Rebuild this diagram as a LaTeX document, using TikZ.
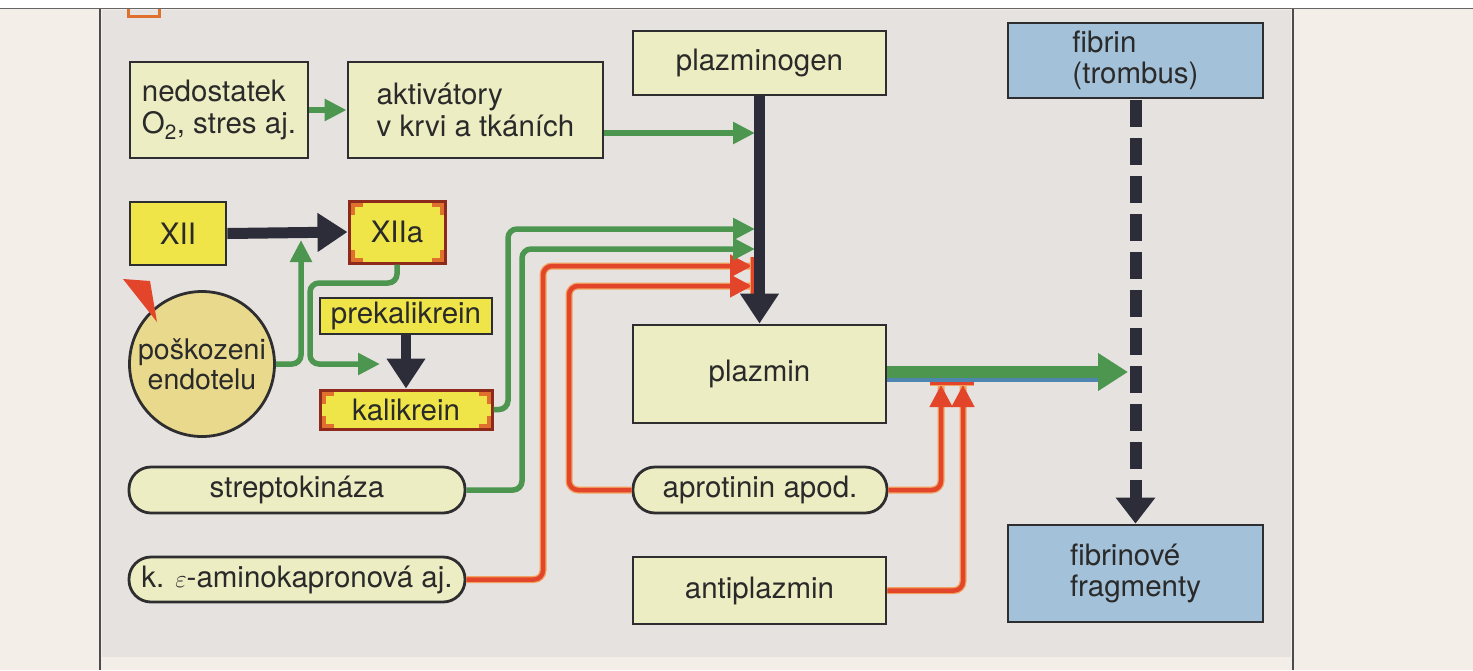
\documentclass[tikz,border=0pt]{standalone}
\usepackage{fontspec}
\setmainfont{TeX Gyre Heros}
\usetikzlibrary{arrows.meta}
\definecolor{pageC}{HTML}{F3EEE7}
\definecolor{panelC}{HTML}{E6E2E0}
\definecolor{paleY}{HTML}{EDEDC3}
\definecolor{brightY}{HTML}{EFE548}
\definecolor{circY}{HTML}{E8D98C}
\definecolor{blueF}{HTML}{A3C1D8}
\definecolor{lineC}{HTML}{2E2E30}
\definecolor{darkA}{HTML}{2C2D38}
\definecolor{greenC}{HTML}{4C9650}
\definecolor{redC}{HTML}{E2452A}
\definecolor{orangeC}{HTML}{F2A260}
\definecolor{dredC}{HTML}{8E2A1C}
\definecolor{cornerC}{HTML}{E0702E}
\definecolor{blueL}{HTML}{4F86B0}
\definecolor{textC}{HTML}{2A2A2A}
\newcommand\boxcorners[1]{%
  \draw[cornerC, line width=4pt]
    ([shift={(5,15)}]#1.north west) -- ([shift={(5,5)}]#1.north west) -- ([shift={(15,5)}]#1.north west)
    ([shift={(-5,15)}]#1.north east) -- ([shift={(-5,5)}]#1.north east) -- ([shift={(-15,5)}]#1.north east)
    ([shift={(5,-15)}]#1.south west) -- ([shift={(5,-5)}]#1.south west) -- ([shift={(15,-5)}]#1.south west)
    ([shift={(-5,-15)}]#1.south east) -- ([shift={(-5,-5)}]#1.south east) -- ([shift={(-15,-5)}]#1.south east);}
\tikzset{
  basebox/.style={draw=lineC, line width=2.8pt, inner sep=0pt, text=textC},
  pbox/.style={basebox, fill=paleY},
  ybox/.style={basebox, fill=brightY},
  rbox/.style={basebox, draw=dredC, line width=3pt, fill=brightY},
  bbox/.style={basebox, fill=blueF},
  pill/.style={basebox, fill=paleY, rounded corners=22pt},
  gline/.style={draw=greenC, line width=5.5pt, rounded corners=9pt},
  garrow/.style={gline, -{Triangle[length=22pt,width=21pt]}},
  rline/.style={draw=redC, line width=4.5pt, rounded corners=9pt,
     preaction={draw=orangeC, line width=7pt, arrows=-}},
  rarrow/.style={rline, -{Triangle[length=22pt,width=22pt]}},
  darrow/.style={draw=darkA, line width=11pt, -{Triangle[length=30pt,width=37pt]}},
}
\begin{document}
\begin{tikzpicture}[x=1pt,y=-1pt, font=\fontsize{29.5}{31.5}\selectfont]
\useasboundingbox (0,0) rectangle (1473,670);
% backgrounds
\fill[pageC] (0,0) rectangle (1473,670);
\fill[white] (0,0) rectangle (1473,8);
\fill[panelC] (102,10) rectangle (1291,657);
\draw[gray!80!black, line width=1.5pt] (0,8.5) -- (1473,8.5);
\draw[gray!60!black, line width=2pt] (100,8.5) -- (100,670);
\draw[gray!60!black, line width=2pt] (1293,8.5) -- (1293,670);
\draw[cornerC, line width=3pt] (128,9) -- (128,16) -- (159,16) -- (159,9);

% nodes
\node[pbox, minimum width=178pt, minimum height=96pt, align=left] (ned) at (219,110) {nedostatek\\O\textsubscript{2}, stres aj.};
\node[pbox, minimum width=255pt, minimum height=96pt, align=left] (akt) at (475.5,110) {aktivátory\\v krvi a tkáních};
\node[pbox, minimum width=253pt, minimum height=64pt] (plg) at (759.5,63) {plazminogen};
\node[bbox, minimum width=255pt, minimum height=75pt, align=left] (fib) at (1135.5,60.5) {fibrin\\(trombus)};
\node[ybox, minimum width=96pt, minimum height=63pt] (xii) at (178,233.5) {XII};
\node[rbox, minimum width=96pt, minimum height=62pt] (xiia) at (397,232) {XIIa};
\node[basebox, circle, fill=circY, minimum size=145pt, align=center, font=\fontsize{28.5}{30}\selectfont] (circ) at (202,364) {poškozeni\\endotelu};
\node[ybox, minimum width=172pt, minimum height=36pt] (prek) at (406,316) {prekalikrein};
\node[rbox, minimum width=172pt, minimum height=39pt] (kal) at (406,409.5) {kalikrein};
\node[pill, minimum width=336pt, minimum height=46pt] (strep) at (297,490) {streptokináza};
\node[pill, minimum width=336pt, minimum height=45pt] (amino) at (297,579.5) {k. $\varepsilon$-aminokapronová aj.};
\node[pbox, minimum width=253pt, minimum height=98pt] (plm) at (759.5,374) {plazmin};
\node[pill, minimum width=254pt, minimum height=46pt] (apr) at (760,490) {aprotinin apod.};
\node[pbox, minimum width=253pt, minimum height=67pt] (anti) at (759.5,590.5) {antiplazmin};
\node[bbox, minimum width=255pt, minimum height=97pt, align=left] (frag) at (1135.5,573.5) {fibrinové\\fragmenty};
\boxcorners{xiia}
\boxcorners{kal}
\fill[redC] (123,279) -- (150,281) -- (157,322) -- cycle;

% target coordinates on lines
\coordinate (t1) at (755,133);
\coordinate (g1) at (755,229);
\coordinate (g2) at (755,249);
\coordinate (r1) at (752,266);
\coordinate (r2) at (752,286);
\coordinate (c1) at (301,240);
\coordinate (c2) at (380,364);
\coordinate (r3) at (941,385);
\coordinate (r4) at (963,385);
\coordinate (t2) at (1128,372);

% red connectors (under)
\draw[rarrow] (amino.east) -| (543,266) -- (r1);
\draw[rarrow] (apr.west) -| (569,286) -- (r2);
\draw[rarrow] (apr.east) -| (r3);
\draw[rarrow] (anti.east) -| (r4);
\draw[redC, line width=3.5pt, preaction={draw=orangeC, line width=5.5pt}] (753,257) -- (753,294);
\draw[redC, line width=4pt, preaction={draw=orangeC, line width=6pt}] (930,383) -- (974,383);

% green connectors
\draw[garrow] (ned.east) -- (akt.west);
\draw[garrow] (akt.east |- t1) -- (t1);
\draw[garrow] (circ.east) -| (c1);
\draw[garrow] (xiia.south) -- (397,283) -- (310,283) -- (310,364) -- (c2);
\draw[garrow] (kal.east) -| (508,229) -- (g1);
\draw[garrow] (strep.east) -| (522,249) -- (g2);
\draw[blueL, line width=4pt] (plm.east |- 0,380) -- (1100,380);
\draw[draw=greenC, line width=12pt, -{Triangle[length=30pt,width=36pt]}] (plm.east |- t2) -- (t2);

% dark arrows
\draw[darrow] (xii.east) -- (xiia.west);
\draw[darrow] (plg.south) -- (plm.north);
\draw[darrow, line width=10pt] (prek.south) -- (kal.north);
\draw[darrow, line width=12pt, dash pattern=on 27pt off 11pt, -{Triangle[length=26pt,width=38pt]}] ([yshift=-1pt]fib.south) -- (frag.north);
\end{tikzpicture}
\end{document}
